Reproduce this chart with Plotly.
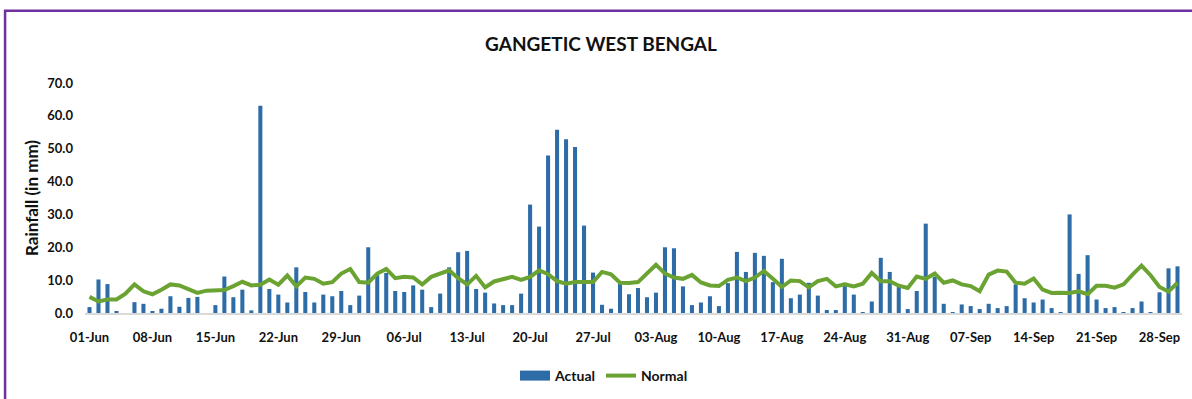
import pandas as pd
import plotly.graph_objects as go

# Daily dates, 1 June - 30 September
dates = pd.date_range("2023-06-01", "2023-09-30", freq="D")

# Actual daily rainfall (mm)
actual = [
    1.8, 10.2, 8.8, 0.6, 0.0, 3.3, 2.8, 0.6, 1.3, 5.1,
    1.9, 4.6, 4.9, 0.0, 2.4, 11.1, 4.8, 7.1, 0.8, 63.1,
    7.3, 5.6, 3.2, 13.9, 6.4, 3.2, 5.6, 5.1, 6.7, 2.4,
    5.3, 20.0, 11.5, 12.2, 6.7, 6.4, 8.4, 7.1, 1.8, 5.9,
    13.9, 18.5, 18.9, 7.3, 6.2, 2.9, 2.4, 2.4, 5.9, 33.0,
    26.3, 47.9, 55.8, 52.9, 50.5, 26.6, 12.3, 2.5, 1.3, 9.5,
    5.7, 7.6, 4.8, 6.2, 20.0, 19.7, 8.1, 2.4, 3.2, 5.1,
    2.1, 9.1, 18.6, 12.5, 18.3, 17.4, 9.4, 16.5, 4.5, 5.6,
    9.2, 5.3, 0.9, 0.9, 9.2, 5.6, 0.3, 3.5, 16.8, 12.5,
    7.9, 1.2, 6.7, 27.2, 11.0, 2.8, 0.3, 2.6, 2.1, 1.2,
    2.8, 1.5, 2.1, 8.7, 4.5, 3.2, 4.1, 1.5, 0.3, 30.0,
    11.9, 17.6, 4.1, 1.5, 1.8, 0.3, 1.5, 3.5, 0.3, 6.3,
    13.6, 14.2,
]

# Normal daily rainfall (mm)
normal = [
    4.9, 3.5, 4.1, 4.1, 5.9, 8.7, 6.6, 5.7, 7.1, 8.7,
    8.4, 7.2, 6.1, 6.8, 6.9, 7.0, 8.2, 9.5, 8.4, 8.6,
    10.2, 8.6, 11.4, 8.1, 10.8, 10.4, 8.9, 9.4, 12.0, 13.4,
    9.4, 9.2, 12.0, 13.4, 10.6, 11.0, 10.8, 8.7, 11.0, 12.1,
    13.0, 10.6, 8.7, 11.3, 7.8, 9.6, 10.2, 11.0, 10.1, 11.0,
    13.0, 11.8, 9.7, 8.9, 9.4, 9.4, 9.4, 12.5, 11.8, 9.2,
    9.1, 9.4, 12.0, 14.7, 12.0, 10.8, 10.4, 11.6, 9.3, 8.4,
    8.2, 10.1, 10.8, 9.7, 10.8, 12.8, 10.4, 7.9, 9.9, 9.7,
    7.8, 9.7, 10.4, 8.1, 8.7, 8.1, 8.9, 12.2, 9.7, 9.7,
    8.3, 7.6, 11.1, 10.4, 12.0, 9.2, 9.9, 8.7, 8.2, 6.6,
    11.7, 12.9, 12.6, 9.2, 8.9, 10.5, 7.1, 6.1, 6.2, 6.1,
    6.6, 5.7, 8.3, 8.3, 7.7, 8.7, 11.7, 14.4, 11.5, 7.9,
    6.5, 9.2,
]

y_ticks = [0, 10, 20, 30, 40, 50, 60, 70]
x_ticks = dates[::7]

FONT = "Lato, 'Liberation Sans', sans-serif"
BAR_COLOR = "#2E6CA8"
LINE_COLOR = "#6BA332"
TEXT = "#111111"

fig = go.Figure()
fig.add_trace(go.Bar(x=dates, y=actual, name="Actual", marker_color=BAR_COLOR,
                     marker_line_width=0, showlegend=False))
# wide rectangular legend key for the bars
fig.add_trace(go.Scatter(x=[None], y=[None], name="Actual", mode="lines",
                         line=dict(color=BAR_COLOR, width=10)))
fig.add_trace(go.Scatter(x=dates, y=normal, name="Normal", mode="lines",
                         line=dict(color=LINE_COLOR, width=4)))

fig.update_layout(
    width=1192, height=399,
    margin=dict(l=84.5, r=9.5, t=83.3, b=85.7),
    paper_bgcolor="white", plot_bgcolor="white",
    bargap=0.55,
    font=dict(family=FONT, color=TEXT),
    title=dict(text="<b>GANGETIC WEST BENGAL</b>", x=601 / 1192, xref="container",
               xanchor="center", y=1 - 44 / 399, yref="container", yanchor="middle",
               font=dict(size=19, family=FONT, color=TEXT)),
    legend=dict(orientation="h", x=604 / 1192, xref="container", xanchor="center",
                y=1 - 376 / 399, yref="container", yanchor="middle",
                font=dict(size=14, family=FONT, color=TEXT, weight="bold"),
                itemwidth=30, tracegroupgap=0),
    showlegend=True,
    shapes=[dict(type="rect", xref="paper", yref="paper",
                 x0=-80 / 1098, x1=1.2, y0=-0.6, y1=1 + (83.3 - 11) / 230,
                 line=dict(color="#7030A0", width=2.5), fillcolor="rgba(0,0,0,0)",
                 layer="below")],
)

fig.update_xaxes(
    type="date",
    range=[dates[0] - pd.Timedelta(hours=12), dates[-1] + pd.Timedelta(hours=12)],
    tickvals=x_ticks, tickformat="%d-%b", ticks="",
    showgrid=False, zeroline=False,
    showline=True, linecolor="#D9D9D9", linewidth=2,
    ticklabelstandoff=11,
    tickfont=dict(size=13, family=FONT, color=TEXT, weight="bold"),
)
fig.update_yaxes(
    range=[0, 70], tickvals=y_ticks, tickformat=".1f", ticks="",
    showgrid=False, zeroline=False, showline=False,
    ticklabelstandoff=11,
    tickfont=dict(size=13, family=FONT, color=TEXT, weight="bold"),
    title=dict(text="<b>Rainfall (in mm)</b>", standoff=4,
               font=dict(size=17, family=FONT, color=TEXT)),
)

fig.write_html("out.html")
